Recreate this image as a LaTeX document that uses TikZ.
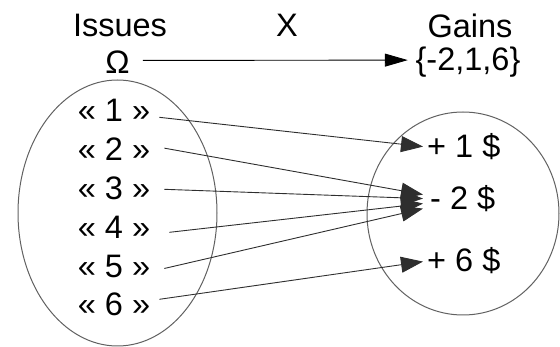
\documentclass[tikz,border=0pt]{standalone}
\usepackage{fontspec}
\setmainfont{Liberation Sans}
\usetikzlibrary{arrows.meta}
\begin{document}
\begin{tikzpicture}[x=1pt,y=-1pt,
  lbl/.style={inner sep=0pt,anchor=base,font=\fontsize{32.5}{38}\selectfont},
  rlbl/.style={inner sep=0pt,anchor=base west,font=\fontsize{32.5}{38}\selectfont},
  setline/.style={draw=black!62,line width=1pt},
  conn/.style={draw=black!82,line width=0.9pt,-{Triangle[length=22pt,width=16pt]}},
  mainarrow/.style={draw=black,line width=0.9pt,-{Triangle[length=23pt,width=13pt]}}]
\useasboundingbox (0,0) rectangle (560,347);
% sets
\draw[setline] (117.5,213) ellipse [x radius=99.5, y radius=133];
\draw[setline] (463,213.5) ellipse [x radius=96, y radius=101.5];
% headings
\node[lbl] (issues) at (120,37) {Issues};
\node[lbl] (xlab) at (287,37) {X};
\node[lbl] (gains) at (470,38) {Gains};
\node[lbl] (om) at (117.5,74) {Ω};
\node[lbl] (gs) at (468,71) {\{-2,1,6\}};
% issues
\node[lbl] (i1) at (114,122) {« 1 »};
\node[lbl] (i2) at (114,161) {« 2 »};
\node[lbl] (i3) at (114,200) {« 3 »};
\node[lbl] (i4) at (114,239) {« 4 »};
\node[lbl] (i5) at (114,278) {« 5 »};
\node[lbl] (i6) at (114,316) {« 6 »};
% gains
\node[rlbl] (p1) at (427,158) {+ 1 \$};
\node[rlbl] (m2) at (430,210) {- 2 \$};
\node[rlbl] (p6) at (427,272) {+ 6 \$};
% X arrow
\draw[mainarrow] ([shift={(13,-2.2)}]om.east) -- ([shift={(-7.6,-2.5)}]gs.west);
% mapping
\draw[conn] ([shift={(9,6.5)}]i1.east) -- ([shift={(-4,-0.5)}]p1.west);
\draw[conn] ([shift={(14,-1.5)}]i2.east) -- ([shift={(-7,-4.5)}]m2.west);
\draw[conn] ([shift={(14,0.5)}]i3.east) -- ([shift={(-7,-0.5)}]m2.west);
\draw[conn] ([shift={(19,4.5)}]i4.east) -- ([shift={(-7,4.5)}]m2.west);
\draw[conn] ([shift={(14,1.5)}]i5.east) -- ([shift={(-7,9.5)}]m2.west);
\draw[conn] ([shift={(9,-5.5)}]i6.east) -- ([shift={(-4,0.5)}]p6.west);
\end{tikzpicture}
\end{document}
